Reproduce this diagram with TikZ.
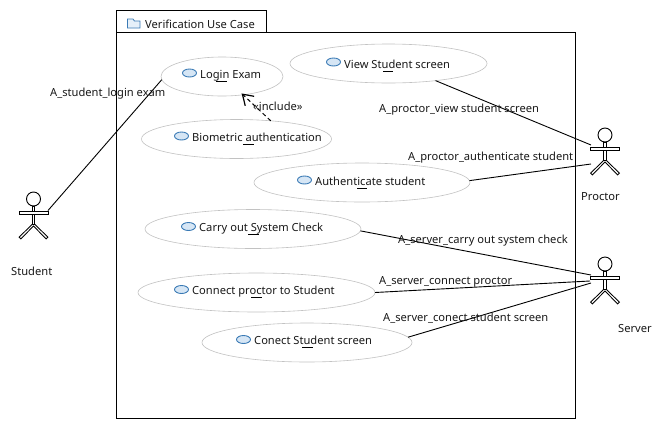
\documentclass[tikz,border=0pt]{standalone}
\usepackage{fontspec}
\setmainfont{Noto Sans}
\usetikzlibrary{shapes.geometric,arrows.meta}
\definecolor{icoline}{HTML}{3A7AB5}
\definecolor{icofill}{HTML}{D6E6F5}
\tikzset{
 x=1pt,y=-1pt,
 usecase/.style={draw=black!24,ellipse,inner sep=0pt,outer sep=0pt,fill=white,line width=.6pt},
 ucicon/.style={draw=icoline,fill=icofill,ellipse,minimum width=14pt,minimum height=8pt,inner sep=0pt,line width=.9pt},
 txt/.style={anchor=base west,inner sep=0pt,font=\fontsize{11.15}{13}\selectfont,text=black!90},
 assoc/.style={draw=black,line width=.9pt},
 frame/.style={draw=black,line width=1pt},
 hotkey/.style={draw=black,line width=.8pt},
 actorlimb/.style={draw=black,fill=white,line width=.85pt,line join=miter},
}
\newcommand{\actorfig}[3]{% name, x, y of head centre
 \coordinate (#1) at (#2,#3);
 % legs
 \draw[actorlimb] (#2-.9,#3+25) -- (#2-13.5-.9,#3+39-.9) -- (#2-13.5+.9,#3+39+.9) -- (#2,#3+27) -- (#2+13.5-.9,#3+39+.9) -- (#2+13.5+.9,#3+39-.9) -- (#2+.9,#3+25) -- cycle;
 % body
 \draw[actorlimb] (#2-1.2,#3+7) rectangle (#2+1.2,#3+25.5);
 % arms
 \draw[actorlimb] (#2-14.5,#3+12.8) rectangle (#2+14.5,#3+15.2);
 % head
 \draw[draw=black,fill=white,line width=.9pt] (#2,#3) circle (7);
}
\begin{document}
\begin{tikzpicture}
\useasboundingbox (0,0) rectangle (661,429);
\fill[white] (0,0) rectangle (661,429);
% package
\draw[frame] (116.5,32) rectangle (575,418);
\draw[frame] (116.5,32) -- (116.5,10) -- (266,10) -- (266,32);
\draw[draw=icoline,fill=icofill!60,line width=.8pt]
  (127.5,28) -- (127.5,19) -- (133,19) -- (134.5,21) -- (140,21) -- (140,28) -- cycle;
\node[txt] (pkg) at (145,28) {Verification Use Case};
% use cases
\node[usecase,minimum width=122pt,minimum height=39pt] (login) at (222,76.5) {};
\node[usecase,minimum width=197pt,minimum height=39pt] (view) at (388.5,63.5) {};
\node[usecase,minimum width=190pt,minimum height=39pt] (bio) at (236.5,139) {};
\node[usecase,minimum width=216pt,minimum height=39pt] (auth) at (362,182.5) {};
\node[usecase,minimum width=216pt,minimum height=39pt] (carry) at (253,229) {};
\node[usecase,minimum width=237pt,minimum height=39pt] (conn) at (256.5,292.5) {};
\node[usecase,minimum width=210pt,minimum height=39pt] (conect) at (307,342.5) {};
% icons
\node[ucicon] (i1) at (189.5,73) {};
\node[ucicon] (i2) at (333.5,62) {};
\node[ucicon] (i3) at (181.5,136) {};
\node[ucicon] (i4) at (304.5,180) {};
\node[ucicon] (i5) at (188.5,226.5) {};
\node[ucicon] (i6) at (181.5,289.5) {};
\node[ucicon] (i7) at (243.5,339.5) {};
% use case texts
\node[txt] (t1) at (200,78.5) {Login Exam};
\node[txt] (t2) at (344,68) {View Student screen};
\node[txt] (t3) at (192,141) {Biometric authentication};
\node[txt] (t4) at (315,185) {Authenticate student};
\node[txt] (t5) at (199,231) {Carry out System Check};
\node[txt] (t6) at (192,294) {Connect proctor to Student};
\node[txt] (t7) at (254,344) {Conect Student screen};
% underlines
\draw[hotkey] (216,81) -- (227,81);
\draw[hotkey] (383,71) -- (393,71);
\draw[hotkey] (243,144) -- (254,144);
\draw[hotkey] (357,188) -- (367,188);
\draw[hotkey] (248,234) -- (259,234);
\draw[hotkey] (251,297) -- (262,297);
\draw[hotkey] (302,347) -- (313,347);
% actors
\actorfig{student}{33.5}{199}
\actorfig{proctor}{605}{135}
\actorfig{server}{605}{264}
\coordinate (sA) at (48,210.5);
\coordinate (pA) at (591,145);
\coordinate (pB) at (591,164);
\coordinate (vA) at (591,275);
\coordinate (vB) at (590,281);
\coordinate (vC) at (591,283);
% connectors
\draw[assoc] (sA) -- (login.183);
\draw[assoc] (view.-20.4) -- (pA);
\draw[assoc] (auth.1) -- (pB);
\draw[assoc] (carry.-1.6) -- (vA);
\draw[assoc] (conn.0) -- (vB);
\draw[assoc] (conect.3) -- (vC);
\draw[draw=black,line width=1pt,dash pattern=on 4pt off 3pt,shorten >=-2pt,-{Straight Barb[length=10pt,width=13pt,line width=1.2pt]}] (bio.28.6) -- (login.-41.6);
% labels
\node[txt] (l1) at (50,96) {A\_student\_login exam};
\node[txt] (l2) at (253,110) {«include»};
\node[txt] (l3) at (379,112) {A\_proctor\_view student screen};
\node[txt] (l4) at (408,160) {A\_proctor\_authenticate student};
\node[txt] (l5) at (398,243) {A\_server\_carry out system check};
\node[txt] (l6) at (379,284) {A\_server\_connect proctor};
\node[txt] (l7) at (383,321) {A\_server\_conect student screen};
\node[txt] (n1) at (11,275) {Student};
\node[txt] (n2) at (581,200) {Proctor};
\node[txt] (n3) at (618,332) {Server};
\end{tikzpicture}
\end{document}
